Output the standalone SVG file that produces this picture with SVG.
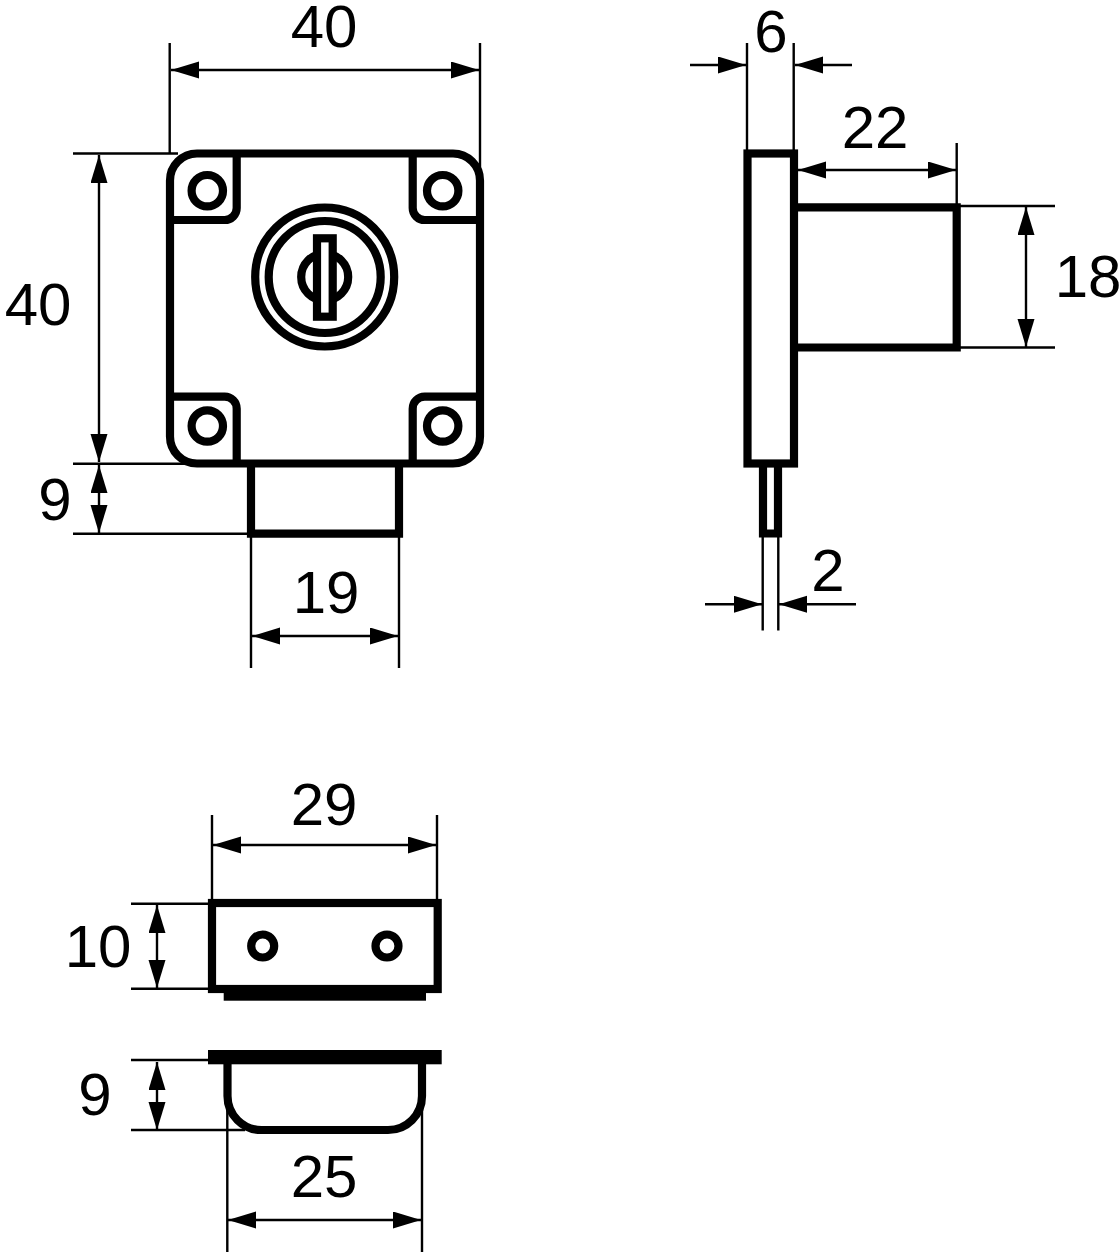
<svg xmlns="http://www.w3.org/2000/svg" width="1120" height="1256" viewBox="0 0 1120 1256">
<style>
.o{fill:none;stroke:#000;stroke-width:8.200;stroke-linejoin:miter}
.f{fill:#fff;stroke:#000;stroke-width:8.200}
.d{fill:none;stroke:#000;stroke-width:2.400}
.a{fill:none;stroke:#000;stroke-width:2.400;marker-end:url(#ar)}
.b{fill:none;stroke:#000;stroke-width:2.400;marker-start:url(#ar);marker-end:url(#ar)}
text{font-family:"Liberation Sans",Arial,sans-serif;font-size:60px;fill:#000;text-anchor:middle}
</style>
<defs>
<marker id="ar" markerUnits="userSpaceOnUse" markerWidth="30" markerHeight="18" refX="28" refY="8.500" orient="auto-start-reverse" viewBox="0 0 30 18"><path d="M0 0L28 8.500L0 17z" fill="#000"/></marker>
</defs>
<rect width="1120" height="1256" fill="#fff"/>
<g id="connectors">
<path class="d" d="M169.700 43V153M480 43V168M73 153.500H178M73 463.700H192M73 533.700H252M251 534V668M399 534V668"/>
<path class="b" d="M171 70H479"/>
<path class="b" d="M99 155V462"/>
<path class="b" d="M99 465V533"/>
<path class="b" d="M252 636H398"/>
<path class="d" d="M747 43V153M793.700 43V153M956.700 143V207M957 206H1055M957 347.500H1055M762.700 537V630.500M778.300 537V630.500"/>
<path class="a" d="M690 65H746"/>
<path class="a" d="M852 65H795"/>
<path class="b" d="M798 170H956"/>
<path class="b" d="M1026 207V347"/>
<path class="a" d="M705 604.300H762"/>
<path class="a" d="M856 604.300H779"/>
<path class="d" d="M212 815V903M437 815V903M131 903.700H208M131 988.700H208M131 1060H208M131 1130H245M227.300 1105V1252M422 1105V1252"/>
<path class="b" d="M213 845H436"/>
<path class="b" d="M157 905V988"/>
<path class="b" d="M157 1062V1130"/>
<path class="b" d="M228 1220H421"/>
</g>
<g id="front-view">
<path class="o" d="M251 463V533.700H399V463"/>
<rect class="o" x="170" y="153.500" width="310" height="310" rx="27"/>
<path class="o" d="M236.700 150V208a12 12 0 0 1-12 12H170M412.700 150V208a12 12 0 0 0 12 12H480M236.700 467V408.700a12 12 0 0 0-12-12H170M412.700 467V408.700a12 12 0 0 1 12-12H480"/>
<circle class="o" cx="207.300" cy="190.700" r="15.700"/>
<circle class="o" cx="442.700" cy="190.700" r="15.700"/>
<circle class="o" cx="207.300" cy="426" r="15.700"/>
<circle class="o" cx="442.700" cy="426" r="15.700"/>
<circle class="o" cx="324.700" cy="277" r="69.500"/>
<circle class="o" cx="324.700" cy="277" r="56"/>
<circle class="o" cx="324.700" cy="277" r="23.500"/>
<rect class="f" x="317" y="238.300" width="15.700" height="78.400"/>
</g>
<g id="side-view">
<path class="o" d="M794 207.300H956.700V347.500H794"/>
<path class="o" d="M763 463V533.500H778V463"/>
<rect class="o" x="747.500" y="153.500" width="46.500" height="310"/>
</g>
<g id="plate-view">
<rect class="o" x="212" y="903" width="225.700" height="86"/>
<rect x="223.700" y="990" width="202.300" height="10.700" fill="#000"/>
<circle class="o" cx="262.700" cy="946" r="11.500"/>
<circle class="o" cx="387" cy="946" r="11.500"/>
</g>
<g id="cup-view">
<path class="o" d="M227.500 1060V1096a34 34 0 0 0 34 34H388a34 34 0 0 0 34-34V1060"/>
<rect x="208" y="1050" width="233.700" height="14.300" fill="#000"/>
</g>
<g id="labels">
<text x="324" y="46.500">40</text>
<text x="38" y="325">40</text>
<text x="55" y="519.500">9</text>
<text x="326" y="612.500">19</text>
<text x="771" y="51.500">6</text>
<text x="875" y="147.500">22</text>
<text x="1088" y="297">18</text>
<text x="828" y="591">2</text>
<text x="324" y="825">29</text>
<text x="98" y="967">10</text>
<text x="95" y="1115">9</text>
<text x="324" y="1197">25</text>
</g>
</svg>
